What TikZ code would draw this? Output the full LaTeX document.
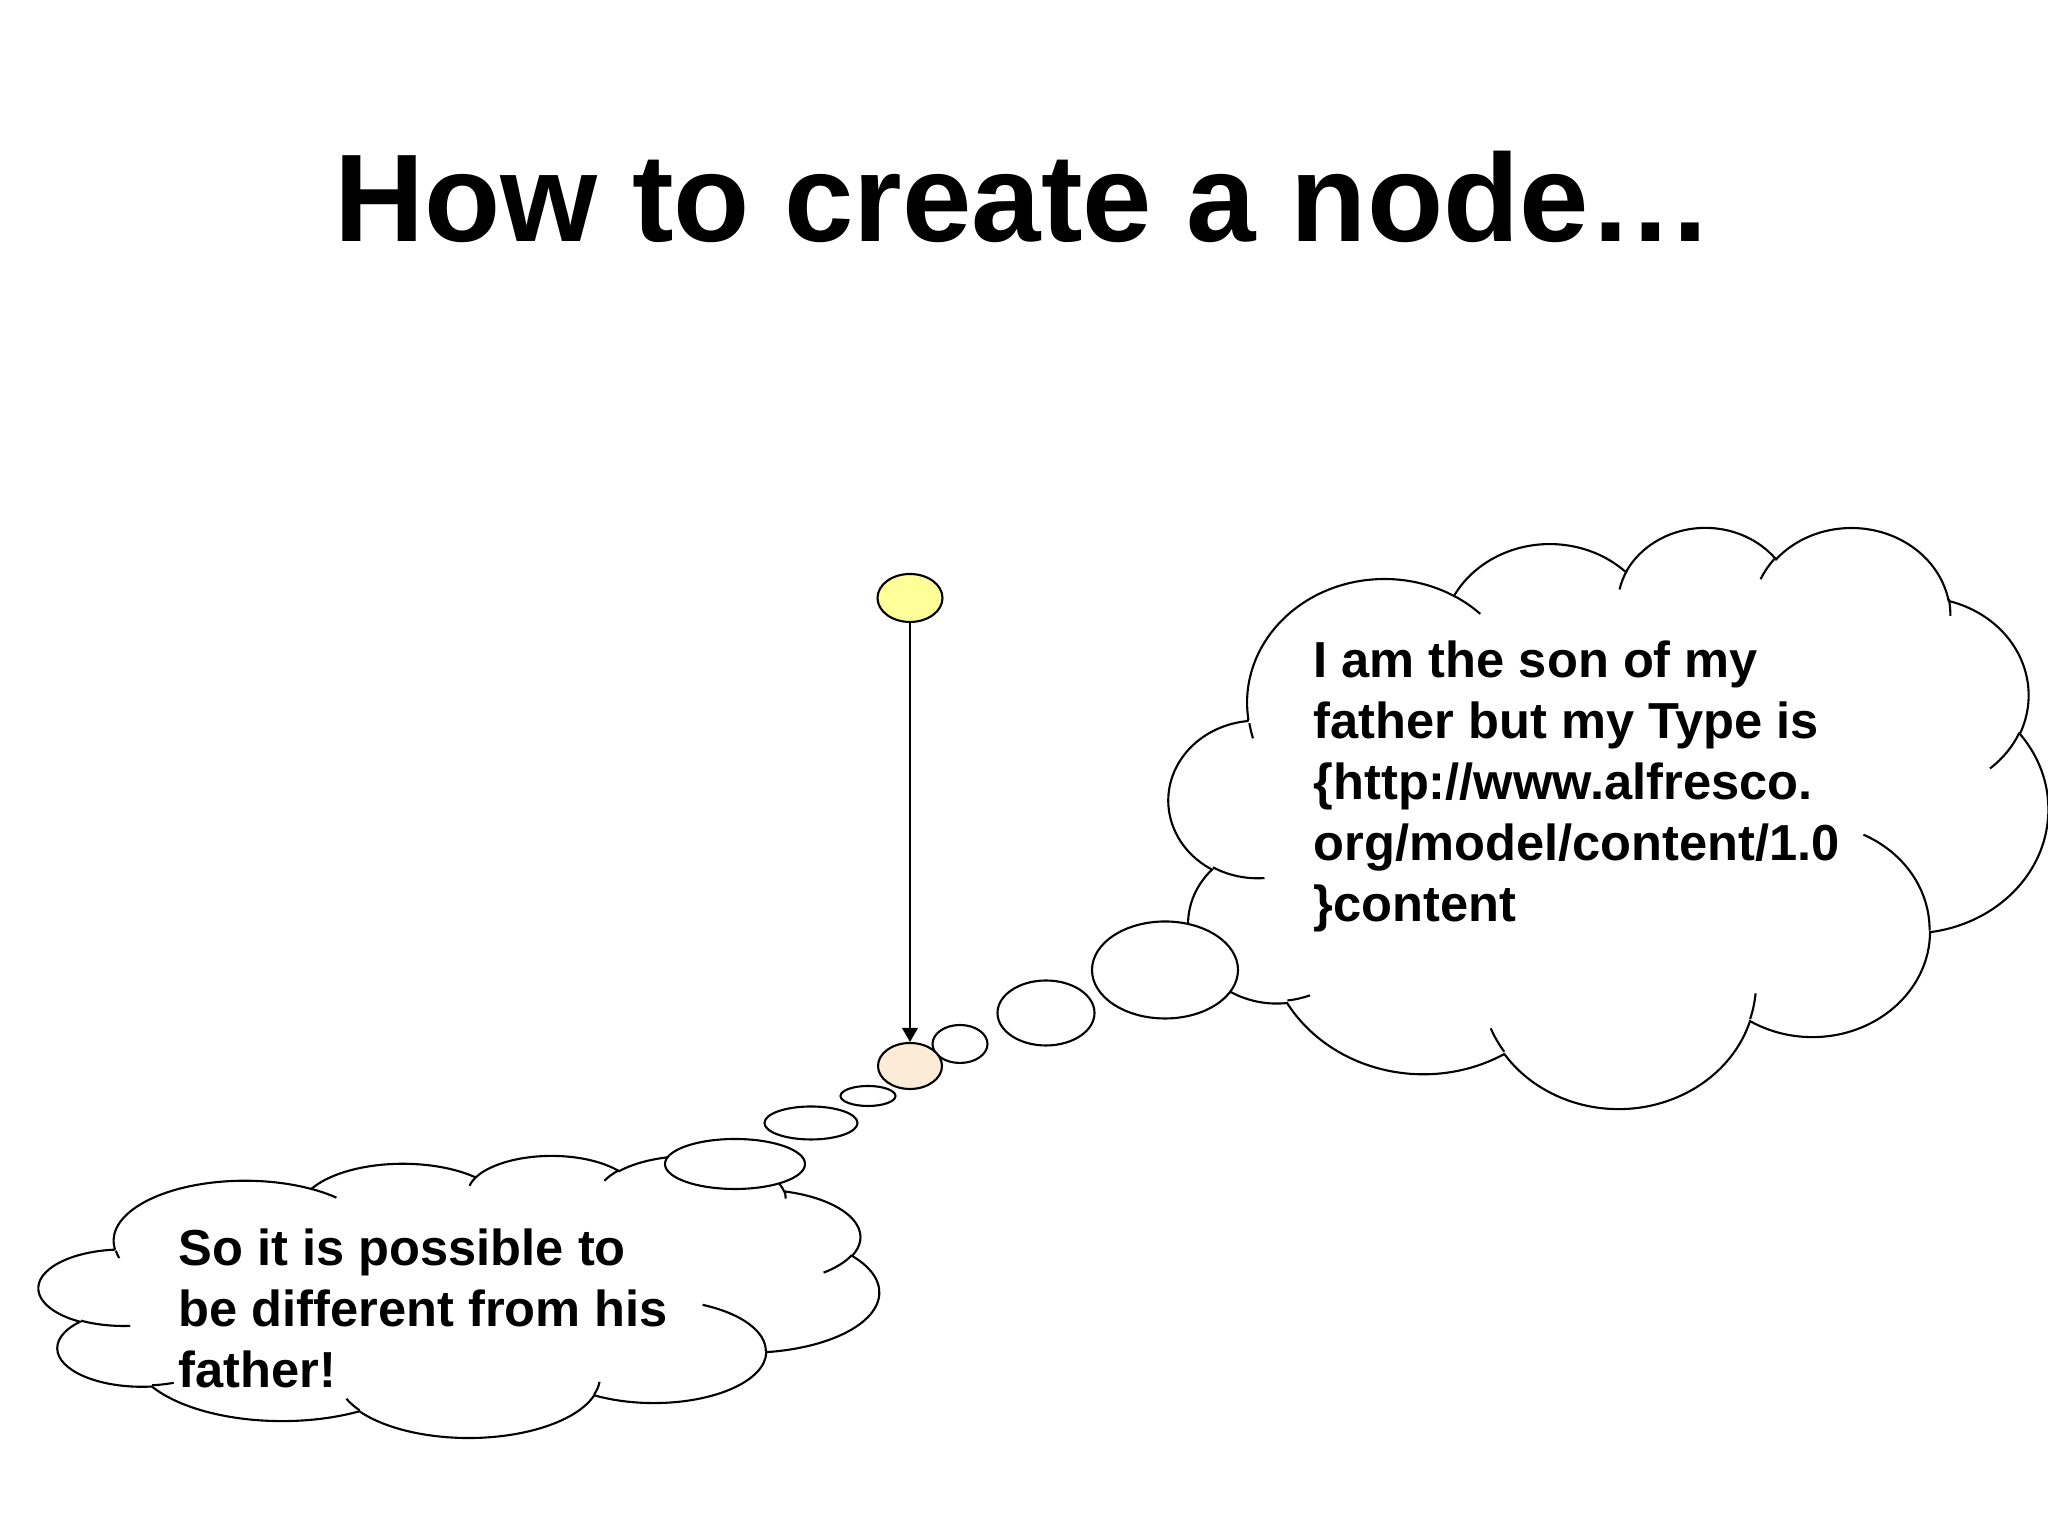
\documentclass[tikz,border=0pt]{standalone}
\usepackage{fontspec}
\setmainfont{Liberation Sans}
\usetikzlibrary{shapes.geometric, arrows.meta, positioning}

\definecolor{parentYellow}{HTML}{FFFF99}
\definecolor{childBeige}{HTML}{FCEBD6}

% one lobe of the cloud: x radius, y radius, start angle, sweep
\newcommand{\cloudTo}[4]{%
  arc[x radius=#1, y radius=#2,
      start angle={atan2(#1*sin(#3), #2*cos(#3))},
      delta angle={mod(atan2(#1*sin(#3+#4), #2*cos(#3+#4)) - atan2(#1*sin(#3), #2*cos(#3)) + 720, 360)}]}

% cloud in the box: left, top, width, height
\newcommand{\thoughtCloud}[4]{%
  \begin{scope}[shift={(#1,#2)}, xscale=#3/43.2, yscale=-#4/43.2]
    \draw [cloudline, fill=white] (3.900,14.370)
      \cloudTo{6.753}{9.190}{-190.4875}{123.7805}
      \cloudTo{5.333}{7.267}{-144.1024}{89.9452}
      \cloudTo{4.365}{5.945}{-145.8079}{99.7230}
      \cloudTo{4.857}{6.595}{-130.9861}{117.2417}
      \cloudTo{5.333}{7.273}{-78.7089}{109.0269}
      \cloudTo{6.775}{9.220}{-46.2673}{130.2690}
      \cloudTo{5.785}{7.867}{0.6250}{114.0333}
      \cloudTo{6.752}{9.215}{22.4516}{115.1726}
      \cloudTo{7.720}{10.543}{66.2426}{75.7110}
      \cloudTo{4.360}{5.918}{-274.9421}{146.7356}
      \cloudTo{4.345}{5.945}{-246.8285}{152.5189}
      -- cycle;
    \draw [cloudline]
      (4.693,26.177) \cloudTo{4.345}{5.945}{86.742}{26.4295}
      (6.928,34.899) \cloudTo{4.360}{5.918}{73.6105}{11.4475}
      (16.478,39.090) \cloudTo{6.752}{9.215}{137.6242}{14.0811}
      (28.827,34.751) \cloudTo{6.752}{9.215}{6.4533}{15.9984}
      (34.129,22.954) \cloudTo{5.785}{7.867}{-70.2924}{70.9174}
      (41.798,15.354) \cloudTo{5.333}{7.273}{30.3180}{27.7515}
      (38.324,5.426) \cloudTo{4.857}{6.595}{-13.7443}{14.8589}
      (29.078,3.952) \cloudTo{4.857}{6.595}{-149.1815}{18.1954}
      (22.141,4.720) \cloudTo{4.365}{5.945}{-163.4943}{17.6864}
      (14.000,5.192) \cloudTo{6.753}{9.190}{-66.7070}{12.3194}
      (4.127,15.789) \cloudTo{6.753}{9.190}{159.1223}{9.4570};
  \end{scope}}

\begin{document}
\begin{tikzpicture}[
    cloudline/.style={line width=0.6pt, black},
    bubble/.style={ellipse, draw, line width=0.6pt, fill=white, inner sep=0pt},
    say/.style={align=left, inner sep=0pt, anchor=north west, font=\fontsize{14.4}{17.4}\selectfont\bfseries},
]
    \useasboundingbox (0,0) rectangle (20.48,15.36);
    %
    \node [font=\fontsize{35.5}{42}\selectfont\bfseries, anchor=base] (title) at (10.24,12.94) {How to create a node…};
    %
    \thoughtCloud{11.69}{10.10}{8.79}{5.81}
    \thoughtCloud{0.39}{3.81}{8.40}{2.82}
    %
    \node [say] (sonText) at (13.13,8.96) {I am the son of my\\father but my Type is\\\{http://www.alfresco.\\org/model/content/1.0\\\}content};
    \node [say] (diffText) at (1.78,3.08) {So it is possible to\\be different from his\\father!};
    %
    \node [bubble, minimum width=0.55cm, minimum height=0.38cm] (up1) at (9.60,4.92) {};
    \node [bubble, minimum width=0.97cm, minimum height=0.65cm] (up2) at (10.46,5.23) {};
    \node [bubble, minimum width=1.46cm, minimum height=0.97cm] (up3) at (11.65,5.66) {};
    \node [bubble, minimum width=0.55cm, minimum height=0.20cm] (down1) at (8.68,4.40) {};
    \node [bubble, minimum width=0.93cm, minimum height=0.33cm] (down2) at (8.11,4.13) {};
    \node [bubble, minimum width=1.40cm, minimum height=0.50cm] (down3) at (7.35,3.72) {};
    %
    \node [bubble, fill=parentYellow, minimum width=0.65cm, minimum height=0.48cm] (parent) at (9.10,9.38) {};
    \node [bubble, fill=childBeige, minimum width=0.64cm, minimum height=0.46cm] (child) at (9.10,4.70) {};
    %
    \draw [-{Triangle[length=4pt,width=4.5pt]}, line width=0.5pt] (parent) -- (child);
\end{tikzpicture}
\end{document}
